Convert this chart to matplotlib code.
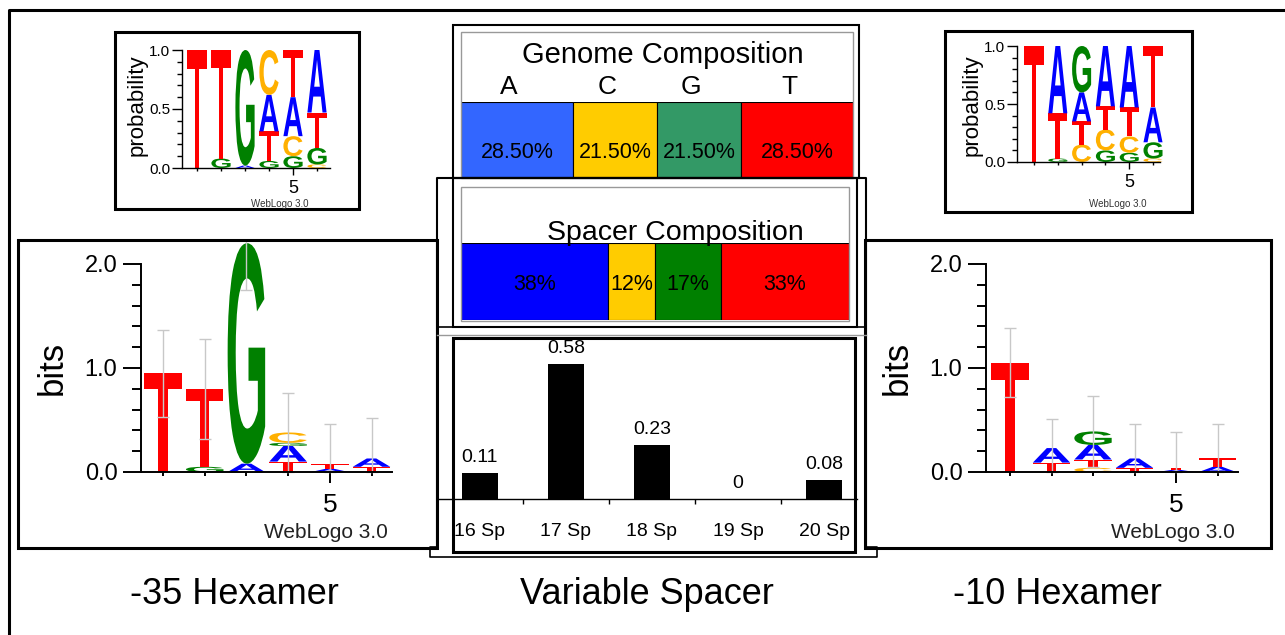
import matplotlib
matplotlib.use("Agg")
import matplotlib.pyplot as plt
import matplotlib.transforms as mtransforms
from matplotlib.patches import Rectangle, PathPatch
from matplotlib.lines import Line2D
from matplotlib.textpath import TextPath
from matplotlib.font_manager import FontProperties
from matplotlib.ticker import FixedLocator, NullFormatter

plt.rcParams['font.family'] = ['Liberation Sans', 'DejaVu Sans']

# ---- data ----
bases = ['A', 'C', 'G', 'T']
genome_pct = [28.5, 21.5, 21.5, 28.5]
spacer_pct = [38, 12, 17, 33]
genome_colors = ['#3366ff', '#ffcc00', '#339966', '#ff0000']
spacer_colors = ['#0000ff', '#ffcc00', '#008000', '#ff0000']

spacer_names = ['16 Sp', '17 Sp', '18 Sp', '19 Sp', '20 Sp']
spacer_freq = [0.11, 0.58, 0.23, 0.0, 0.08]

# letter stacks, bottom to top: (letter, height)
m35_prob = [
    [('T', 1.00)],
    [('G', 0.08), ('T', 0.92)],
    [('A', 0.02), ('G', 0.98)],
    [('G', 0.06), ('T', 0.25), ('A', 0.31), ('C', 0.38)],
    [('G', 0.10), ('C', 0.17), ('A', 0.33), ('T', 0.40)],
    [('C', 0.03), ('G', 0.14), ('T', 0.30), ('A', 0.53)],
]
m10_prob = [
    [('T', 1.00)],
    [('G', 0.03), ('T', 0.39), ('A', 0.58)],
    [('C', 0.15), ('T', 0.20), ('A', 0.25), ('G', 0.40)],
    [('G', 0.10), ('C', 0.18), ('T', 0.20), ('A', 0.52)],
    [('G', 0.08), ('C', 0.14), ('T', 0.25), ('A', 0.53)],
    [('C', 0.03), ('G', 0.14), ('A', 0.30), ('T', 0.53)],
]
m35_bits = [
    [('T', 0.95)],
    [('G', 0.05), ('T', 0.75)],
    [('A', 0.08), ('G', 2.12)],
    [('T', 0.10), ('A', 0.15), ('G', 0.03), ('C', 0.10)],
    [('A', 0.03), ('T', 0.05)],
    [('T', 0.05), ('A', 0.08)],
]
m35_err = [0.42, 0.48, 0.45, 0.38, 0.38, 0.39]
m10_bits = [
    [('T', 1.05)],
    [('T', 0.09), ('A', 0.14)],
    [('C', 0.04), ('T', 0.08), ('A', 0.14), ('G', 0.13)],
    [('T', 0.04), ('A', 0.09)],
    [('A', 0.02), ('T', 0.02)],
    [('A', 0.05), ('T', 0.08)],
]
m10_err = [0.33, 0.28, 0.34, 0.33, 0.34, 0.33]

letter_colors = {'A': '#0000ff', 'C': '#ffb000', 'G': '#008000', 'T': '#ff0000'}

W, H = 1285, 635
fig = plt.figure(figsize=(W / 100, H / 100), dpi=100)
fig.patch.set_facecolor('white')


def px_axes(x0, y0, x1, y1):
    return fig.add_axes([x0 / W, 1 - y1 / H, (x1 - x0) / W, (y1 - y0) / H])


def px_rect(x0, y0, x1, y1, **kw):
    fig.patches.append(Rectangle((x0 / W, 1 - y1 / H), (x1 - x0) / W, (y1 - y0) / H,
                                 transform=fig.transFigure, fill=False, **kw))


def px_line(xs, ys, **kw):
    fig.add_artist(Line2D([x / W for x in xs], [1 - y / H for y in ys],
                          transform=fig.transFigure, **kw))


def px_text(x, y, s, **kw):
    fig.text(x / W, 1 - y / H, s, **kw)


LETTER_FP = FontProperties(family='Liberation Sans', weight='bold')


def draw_letter(ax, ch, x, y0, h, w, color):
    tp = TextPath((0, 0), ch, size=1, prop=LETTER_FP)
    bb = tp.get_extents()
    t = (mtransforms.Affine2D().translate(-bb.x0, -bb.y0)
         .scale(w / bb.width, h / bb.height).translate(x - w / 2, y0))
    ax.add_patch(PathPatch(t.transform_path(tp), fc=color, ec='none', lw=0))


def logo(box, p1, dp, v0, dv, spine_px, end_px, columns, ymax, yticks, ytick_labels,
         minor_step, width, big, err=None):
    x0, y0, x1, y1 = box
    ax = px_axes(x0, y0, x1, y1)
    ax.set_facecolor('none')
    ax.set_xlim(1 + (x0 - p1) / dp, 1 + (x1 - p1) / dp)
    ax.set_ylim((v0 - y1) / dv, (v0 - y0) / dv)
    sx = 1 + (spine_px - p1) / dp
    ex = 1 + (end_px - p1) / dp

    tops = []
    for i, col in enumerate(columns):
        base = 0
        for ch, h in col:
            draw_letter(ax, ch, i + 1, base, h, width, letter_colors[ch])
            base += h
        tops.append(base)
    if err is not None:
        lower = [min(e, t) for e, t in zip(err, tops)]
        ax.errorbar(range(1, len(columns) + 1), tops, yerr=[lower, err], fmt='none',
                    ecolor='#c8c8c8', elinewidth=1, capsize=4, capthick=1, zorder=5)

    for s in ['top', 'right']:
        ax.spines[s].set_visible(False)
    ax.spines['left'].set_position(('data', sx))
    ax.spines['left'].set_bounds(0, ymax)
    ax.spines['bottom'].set_position(('data', 0))
    ax.spines['bottom'].set_bounds(sx, ex)
    lw = 1.4 if big else 1.0
    ax.spines['left'].set_linewidth(lw)
    ax.spines['bottom'].set_linewidth(lw)
    ax.spines['bottom'].set_zorder(6)

    ax.set_yticks(yticks)
    ax.set_yticklabels(ytick_labels)
    n = int(round(ymax / minor_step))
    ax.yaxis.set_minor_locator(FixedLocator([k * minor_step for k in range(n + 1)]))
    ax.set_xticks([5])
    ax.set_xticklabels(['5'])
    ax.xaxis.set_minor_locator(FixedLocator([1, 2, 3, 4, 6]))
    ax.xaxis.set_minor_formatter(NullFormatter())
    if big:
        ax.tick_params(axis='y', which='major', length=13, width=1.4, labelsize=17, pad=4)
        ax.tick_params(axis='y', which='minor', length=6.5, width=1.4)
        ax.tick_params(axis='x', which='major', length=8, width=1.4, labelsize=19, pad=7)
        ax.tick_params(axis='x', which='minor', length=3, width=1.4)
    else:
        ax.tick_params(axis='y', which='major', length=7, width=1.0, labelsize=11, pad=1.5)
        ax.tick_params(axis='y', which='minor', length=3.5, width=1.0)
        ax.tick_params(axis='x', which='major', length=5, width=1.0, labelsize=13, pad=3.5)
        ax.tick_params(axis='x', which='minor', length=2, width=1.0)
    ax.add_patch(Rectangle((0, 0), 1, 1, transform=ax.transAxes, fill=False,
                           ec='black', lw=2.2, clip_on=False, zorder=10))
    return ax


# small probability logos
logo((115, 32, 359, 209), 197, 24, 168, 118, 182, 330, m35_prob, 1.0,
     [0, 0.5, 1.0], ['0.0', '0.5', '1.0'], 0.1, 0.8, False)
px_text(137, 105, 'probability', fontsize=16, rotation=90, ha='center', va='center')
px_text(280, 204, 'WebLogo 3.0', fontsize=7, ha='center', va='center', color='#333333')

logo((945, 31, 1192, 212), 1034, 23.8, 162, 116, 1017, 1160, m10_prob, 1.0,
     [0, 0.5, 1.0], ['0.0', '0.5', '1.0'], 0.1, 0.8, False)
px_text(972, 105, 'probability', fontsize=16, rotation=90, ha='center', va='center')
px_text(1118, 204, 'WebLogo 3.0', fontsize=7, ha='center', va='center', color='#333333')

# big bits logos
logo((18, 240, 437, 548), 163, 41.7, 472, 104, 141, 392, m35_bits, 2.0,
     [0, 1.0, 2.0], ['0.0', '1.0', '2.0'], 0.2, 0.9, True, m35_err)
px_text(52, 368, 'bits', fontsize=25, rotation=90, ha='center', va='center')
px_text(388, 533, 'WebLogo 3.0', fontsize=15, ha='right', va='center', color='#222222')

logo((865, 240, 1271, 548), 1010, 41.5, 472, 104, 986, 1238, m10_bits, 2.0,
     [0, 1.0, 2.0], ['0.0', '1.0', '2.0'], 0.2, 0.9, True, m10_err)
px_text(897, 368, 'bits', fontsize=25, rotation=90, ha='center', va='center')
px_text(1235, 533, 'WebLogo 3.0', fontsize=15, ha='right', va='center', color='#222222')


# composition bars
def composition(box, pct, colors, fmt, text_y):
    x0, y0, x1, y1 = box
    ax = px_axes(x0, y0, x1, y1)
    ax.set_xlim(0, 100)
    ax.set_ylim(0, 1)
    left = 0
    centers = []
    for v, c in zip(pct, colors):
        ax.barh(0.5, v, left=left, height=1, color=c, edgecolor='black', lw=0.8)
        centers.append(left + v / 2)
        ax.text(left + v / 2, text_y, fmt(v), ha='center', va='baseline', fontsize=15.5)
        left += v
    ax.axis('off')
    return ax, centers


ax_g, g_centers = composition((461, 102, 853, 177), genome_pct, genome_colors,
                              lambda v: f'{v:.2f}%', (177 - 158) / 75)
for b, cx in zip(bases, g_centers):
    ax_g.text(cx - 2, (177 - 94) / 75, b, ha='center', va='baseline', fontsize=19)
px_text(663, 63, 'Genome Composition', fontsize=21, ha='center', va='baseline')

composition((461, 243, 849, 320), spacer_pct, spacer_colors,
            lambda v: f'{v:d}%', (320 - 290) / 77)
px_text(675, 240, 'Spacer Composition', fontsize=20.5, ha='center', va='baseline')

# frames around the composition boxes
px_rect(453, 25, 859, 178, ec='black', lw=1.5)
px_rect(461, 32, 853, 178, ec='#999999', lw=1.0)
px_rect(453, 178, 857, 327, ec='black', lw=1.5)
px_rect(461, 187, 849, 321, ec='#999999', lw=1.0)
px_line([437, 437, 866, 866], [547, 178, 178, 547], color='black', lw=1.5)
px_line([437, 866], [327, 327], color='black', lw=1.2)
px_line([437, 866], [335, 335], color='#999999', lw=1.0)
px_line([437, 430, 430, 877, 877, 866], [547, 547, 557, 557, 547, 547], color='black', lw=1.2)

# spacer length bar chart
bx0, by0, bx1, by1 = 438, 338, 857, 552
ax_b = px_axes(bx0, by0, bx1, by1)
ax_b.set_facecolor('none')
ax_b.set_xlim((bx0 - 480) / 86, (bx1 - 480) / 86)
ax_b.set_ylim((499 - by1) / 233, (499 - by0) / 233)
bars = ax_b.bar(range(len(spacer_names)), spacer_freq, width=0.41, color='black')
ax_b.bar_label(bars, labels=['0' if v == 0 else f'{v:.2f}' for v in spacer_freq],
               padding=5, fontsize=14)
for s in ['top', 'right', 'left']:
    ax_b.spines[s].set_visible(False)
ax_b.spines['bottom'].set_position(('data', 0))
ax_b.spines['bottom'].set_linewidth(1.0)
ax_b.set_yticks([])
ax_b.set_xticks([i + 0.5 for i in range(len(spacer_names) - 1)])
ax_b.set_xticklabels([])
ax_b.tick_params(axis='x', which='major', length=3.5, width=1.0, direction='out')
ax_b.xaxis.set_minor_locator(FixedLocator(list(range(len(spacer_names)))))
ax_b.set_xticklabels(spacer_names, minor=True)
ax_b.tick_params(axis='x', which='minor', length=0, labelsize=14, pad=17)
px_rect(453, 338, 855, 552, ec='black', lw=2.2)

# captions
px_text(234, 604, '-35 Hexamer', fontsize=26, ha='center', va='baseline')
px_text(647, 604, 'Variable Spacer', fontsize=26, ha='center', va='baseline')
px_text(1057, 604, '-10 Hexamer', fontsize=26, ha='center', va='baseline')

# outer frame
px_line([9, 9, 1285], [635, 10, 10], color='black', lw=2.2)

fig.savefig('out.png', dpi=100, facecolor='white')
